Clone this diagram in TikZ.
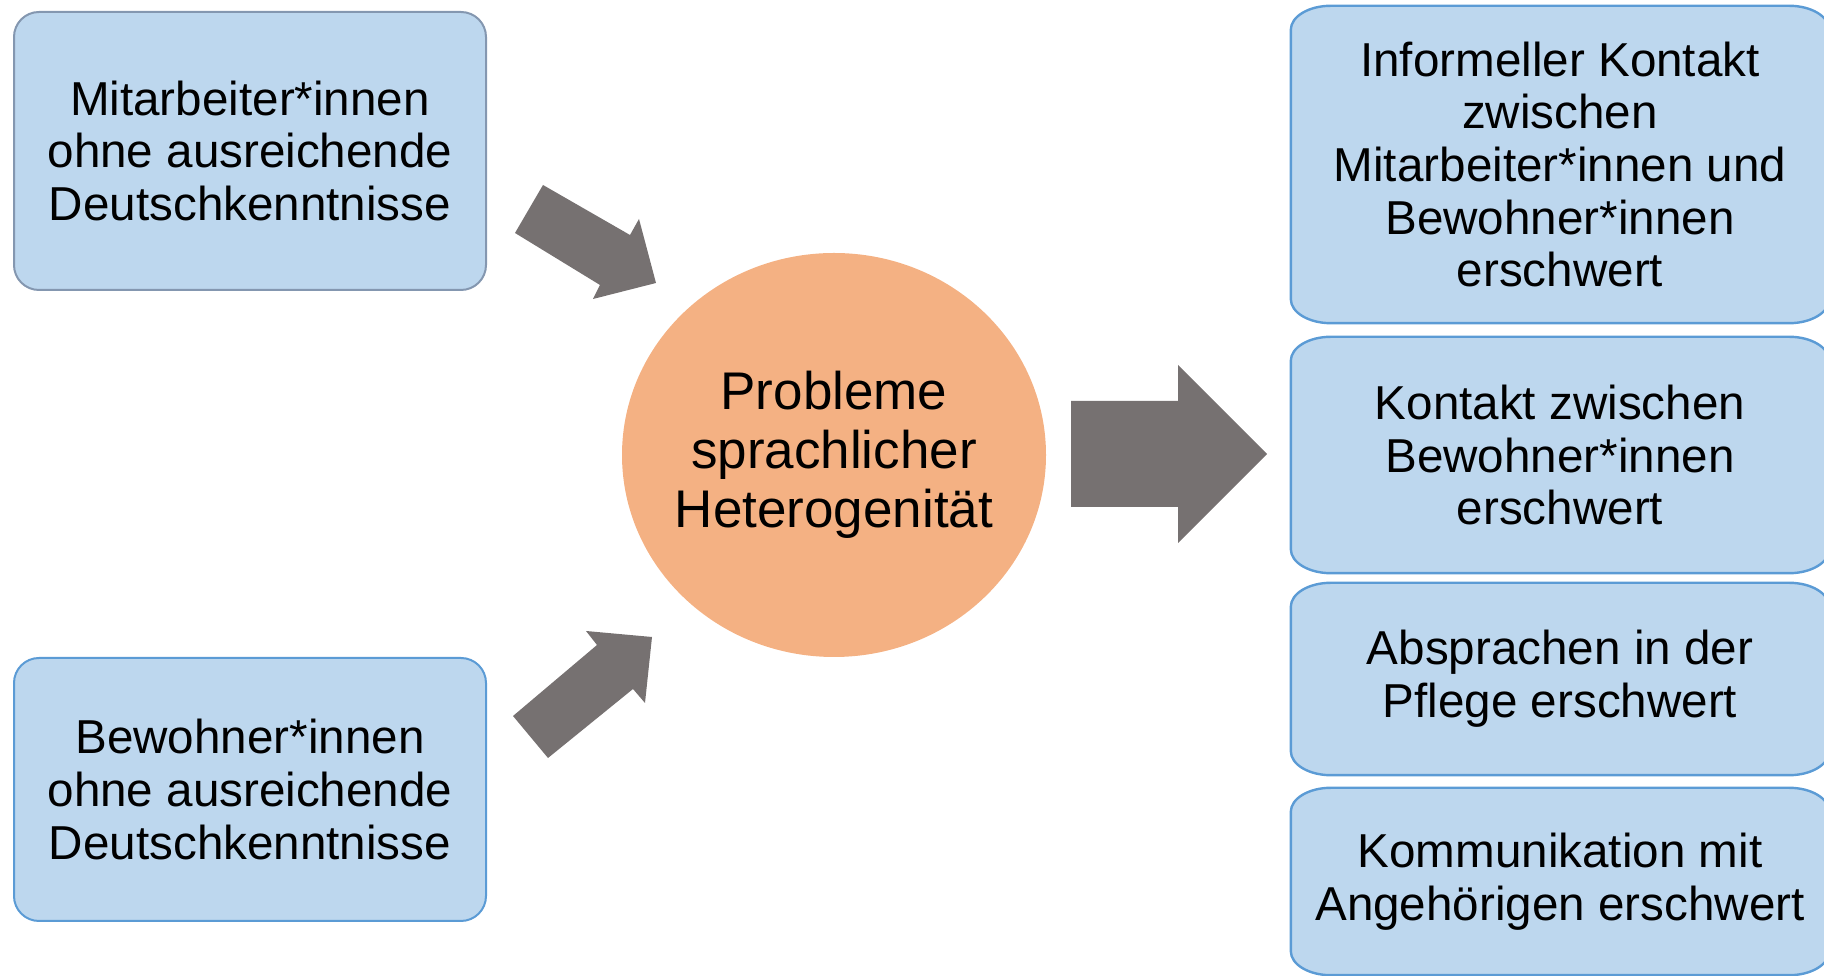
\documentclass[tikz,border=0pt]{standalone}
\usepackage{fontspec}
\setmainfont{Liberation Sans}
\usetikzlibrary{shapes.geometric,backgrounds}
\definecolor{boxfill}{HTML}{BDD7EE}
\definecolor{boxline}{HTML}{5B9BD5}
\definecolor{greyline}{HTML}{8497B0}
\definecolor{hubfill}{HTML}{F4B183}
\definecolor{arrowfill}{HTML}{767171}
\tikzset{
  leftbox/.style={rectangle, rounded corners=25pt, fill=boxfill, draw=boxline, line width=2pt,
    align=center, inner sep=0pt, font=\fontsize{47.6}{52.7}\selectfont},
  rightbox/.style={rectangle, align=center, inner sep=0pt, font=\fontsize{47.6}{52.7}\selectfont},
  softline/.style={fill=boxfill, draw=boxline, line width=2.4pt},
  hub/.style={rectangle, draw=none, inner sep=0pt, align=center,
    font=\fontsize{53}{59}\selectfont},
  hubshape/.style={fill=hubfill, draw=none},
  blockarrow/.style={fill=arrowfill, draw=none}
}
\begin{document}
\begin{tikzpicture}[x=1pt,y=1pt]
\useasboundingbox (0,0) rectangle (1824,976);
\clip (0,0) rectangle (1824,976);

% left boxes
\node[leftbox, draw=greyline, minimum width=472pt, minimum height=278pt] (L1) at (250,825)
  {Mitarbeiter*innen\\ohne ausreichende\\Deutschkenntnisse};
\node[leftbox, minimum width=472pt, minimum height=263pt] (L2) at (250,186.5)
  {Bewohner*innen\\ohne ausreichende\\Deutschkenntnisse};

% hub
\node[hub] (hub) at (834,521)
  {Probleme\\sprachlicher\\Heterogenität};

% right boxes
\node[rightbox, minimum width=538pt, minimum height=317pt] (R1) at (1560,811.5)
  {Informeller Kontakt\\zwischen\\Mitarbeiter*innen und\\Bewohner*innen\\erschwert};
\node[rightbox, minimum width=538pt, minimum height=236pt] (R2) at (1560,521)
  {Kontakt zwischen\\Bewohner*innen\\erschwert};
\node[rightbox, minimum width=538pt, minimum height=192pt] (R3) at (1560,297)
  {Absprachen in der\\Pflege erschwert};
\node[rightbox, minimum width=538pt, minimum height=187pt] (R4) at (1560,94.5)
  {Kommunikation mit\\Angehörigen erschwert};

\begin{scope}[on background layer]
\fill[hubshape] (hub.center) ellipse [x radius=212pt, y radius=202pt];
\foreach \b in {R1,R2,R3,R4}{
  \draw[softline] ([xshift=40pt]\b.north west) -- ([xshift=-40pt]\b.north east)
    arc[start angle=90,end angle=0,x radius=40pt,y radius=24pt]
    -- ([yshift=24pt]\b.south east)
    arc[start angle=0,end angle=-90,x radius=40pt,y radius=24pt]
    -- ([xshift=40pt]\b.south west)
    arc[start angle=270,end angle=180,x radius=40pt,y radius=24pt]
    -- ([yshift=-24pt]\b.north west)
    arc[start angle=180,end angle=90,x radius=40pt,y radius=24pt] -- cycle;
}
\end{scope}

% block arrows
\fill[blockarrow] (543,791) -- (630,741) -- (639,757) -- (656,693) -- (593,677) -- (600,691) -- (515,743) -- cycle;
\fill[blockarrow] (513,260) -- (597,331) -- (586,345) -- (652,339) -- (645,273) -- (633,287) -- (548,218) -- cycle;
\fill[blockarrow] (1071,575) -- (1178,575) -- (1178,611) -- (1267,522) -- (1178,433) -- (1178,469) -- (1071,469) -- cycle;
\end{tikzpicture}
\end{document}
